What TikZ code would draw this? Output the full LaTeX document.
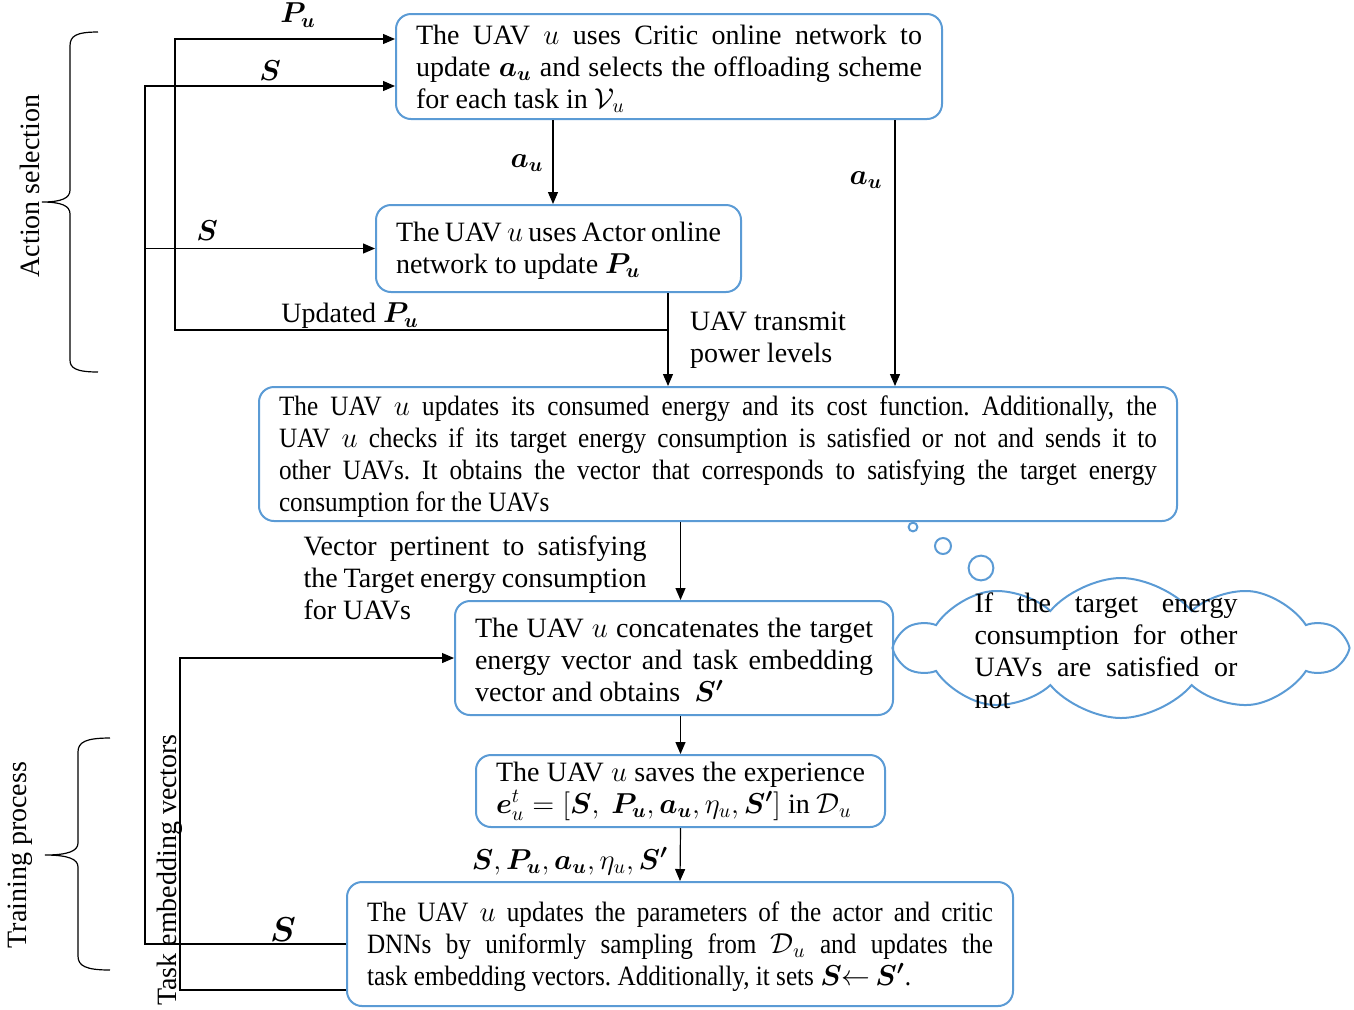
\documentclass[tikz,border=0pt]{standalone}
\usepackage{amsmath,amssymb}
\usepackage{fontspec}
\usepackage{bm}
\setmainfont{Liberation Serif}
\newfontfamily\narrowserif[FakeStretch=0.9]{Liberation Serif}
\usetikzlibrary{arrows.meta,shapes.symbols}
\definecolor{boxblue}{RGB}{91,155,213}
\tikzset{
  stepbox/.style={draw=boxblue, line width=1pt, rounded corners=7.5pt, align=justify, inner xsep=10pt, inner ysep=2pt, font=\fontsize{14}{16}\selectfont\frenchspacing},
  lbl/.style={font=\fontsize{14}{16}\selectfont\frenchspacing},
  arr/.style={-{Triangle[length=6pt,width=5pt]}, line width=0.6pt},
  wire/.style={line width=0.6pt},
  bubble/.style={draw=boxblue, line width=1pt}
}
\begin{document}
\begin{tikzpicture}[x=0.5pt,y=-0.5pt]
\useasboundingbox (0,0) rectangle (1354,1009);

\node[stepbox, text width=253pt, minimum height=52.5pt] (b1) at (669,66.5) {\rule{0pt}{12pt}The UAV $u$ uses Critic online network to\linebreak update $\bm{a_u}$ and selects the offloading scheme\linebreak for each task in $\mathcal{V}_u$};
\node[stepbox, text width=162.5pt, minimum height=43.5pt] (b2) at (558.5,248.5) {\rule{0pt}{12pt}The UAV $u$ uses Actor online\linebreak network to update $\bm{P_u}$};
\node[stepbox, text width=439pt, minimum height=67pt, font=\fontsize{14}{16}\narrowserif\frenchspacing] (b3) at (718,454) {\rule{0pt}{12pt}The UAV $u$ updates its consumed energy and its cost function. Additionally, the\linebreak UAV $u$ checks if its target energy consumption is satisfied or not and sends it to\linebreak other UAVs. It obtains the vector that corresponds to satisfying the target energy\linebreak consumption for the UAVs};
\node[stepbox, text width=199pt, minimum height=57pt] (b4) at (674,658) {\rule{0pt}{12pt}The UAV $u$ concatenates the target\linebreak energy vector and task embedding\linebreak vector and obtains~ $\bm{S'}$};
\node[stepbox, text width=184.5pt, minimum height=36pt] (b5) at (680.5,791) {The UAV $u$ saves the experience\linebreak $\bm{e}_u^t=[\bm{S},\ \bm{P_u},\bm{a_u},\eta_u,\bm{S'}]$ in $\mathcal{D}_u$};
\node[stepbox, text width=313pt, minimum height=62pt, font=\fontsize{14}{16}\narrowserif\frenchspacing] (b6) at (680,944) {\rule{0pt}{12pt}The UAV $u$ updates the parameters of the actor and critic\linebreak DNNs by uniformly sampling from $\mathcal{D}_u$ and updates the\linebreak task embedding vectors. Additionally, it sets $\bm{S}{\leftarrow}\,\bm{S'}$.};

\node[cloud, cloud puffs=10, cloud puff arc=100, cloud ignores aspect, bubble, minimum width=223pt, minimum height=70pt] (cloud) at (1121,648) {};
\node[lbl, text width=131.5pt, align=justify] (cloudtxt) at (1106,651) {If the target energy\linebreak consumption for other\linebreak UAVs are satisfied or\linebreak not};
\draw[bubble] (913,527) circle[radius=2.2pt];
\draw[bubble] (943,546) circle[radius=4pt];
\draw[bubble] (981,568) circle[radius=6.2pt];

\coordinate (pin) at ([yshift=-13pt]b1.north west);
\coordinate (sin) at ([yshift=-36.5pt]b1.north west);
\coordinate (pu) at ([xshift=-37pt]b2.south east);
\coordinate (au) at ([xshift=-24pt]b1.south east);
\coordinate (act) at ([xshift=-2.75pt]b2.north);
\coordinate (prail) at (175,330);
\coordinate (srail) at (145,944);
\coordinate (trail) at (180,990);

\draw[arr] (act |- b1.south) -- (act);
\draw[arr] (au) -- (au |- b3.north);
\draw[arr] (pu) -- (pu |- b3.north);
\draw[arr] (pu |- prail) -- (prail) -- (prail |- pin) -- (pin);
\draw[arr] (b6.west) -- (srail) -- (srail |- sin) -- (sin);
\draw[arr] (srail |- b2.west) -- (b2.west);
\draw[arr] ([yshift=-23pt]b6.west) -- (trail) -- (trail |- b4.west) -- (b4.west);
\draw[arr] (b3.south -| b5.north) -- (b4.north -| b5.north);
\draw[arr] (b4.south -| b5.north) -- (b5.north);
\draw[arr] (b5.south) -- (b6.north);

\node[lbl] (lpu) at (298,15) {$\bm{P_u}$};
\node[lbl] (ls1) at (270,71) {$\bm{S}$};
\node[lbl] (lau1) at (527,163) {$\bm{a_u}$};
\node[lbl] (lau2) at (866,180) {$\bm{a_u}$};
\node[lbl] (ls2) at (207,231) {$\bm{S}$};
\node[lbl] (lupd) at (350,316) {Updated $\bm{P_u}$};
\node[lbl, text width=78pt, align=justify] (lpow) at (768,340) {UAV transmit\linebreak power levels};
\node[lbl, text width=171.5pt, align=justify] (lvec) at (475,578) {Vector pertinent to satisfying\linebreak the Target energy consumption\linebreak for UAVs};
\node[lbl, font=\fontsize{17}{18}\selectfont] (ls3) at (283,930) {$\bm{S}$};
\node[lbl] (lexp) at (570,861) {$\bm{S},\bm{P_u},\bm{a_u},\eta_u,\bm{S'}$};
\node[lbl, rotate=90] (ltask) at (170,870) {Task embedding vectors};
\node[lbl, rotate=90] (lact) at (30,186) {Action selection};
\node[lbl, rotate=90] (ltrain) at (20,855) {Training process};

\draw[wire] (98,32) .. controls (76,32) and (70,36) .. (70,46) -- (70,190) .. controls (70,198) and (62,202) .. (42,202) .. controls (62,202) and (70,206) .. (70,214) -- (70,360) .. controls (70,368) and (76,372) .. (98,372);
\draw[wire] (110,738) .. controls (86,738) and (78,742) .. (78,752) -- (78,843) .. controls (78,851) and (68,855) .. (45,855) .. controls (68,855) and (78,859) .. (78,867) -- (78,956) .. controls (78,966) and (86,970) .. (110,970);
\end{tikzpicture}
\end{document}
